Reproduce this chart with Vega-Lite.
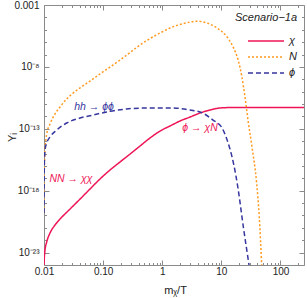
{
  "$schema": "https://vega.github.io/schema/vega-lite/v6.json",
  "width": 260,
  "height": 260,
  "autosize": {"type": "none"},
  "padding": {"left": 44, "top": 5, "right": 3, "bottom": 33},
  "background": "white",
  "config": {
    "view": {"stroke": "#8a8a8a", "strokeWidth": 1},
    "font": "Liberation Sans",
    "axis": {
      "domain": false,
      "grid": false,
      "tickColor": "#8a8a8a",
      "labelColor": "#222222",
      "labelFont": "Liberation Sans",
      "labelFontSize": 10,
      "titleFont": "Liberation Sans",
      "titleFontWeight": "normal",
      "titleColor": "#222222",
      "titleFontSize": 11,
      "labelFlush": false,
      "labelOverlap": false
    }
  },
  "datasets": {
    "curves": [
      {"series": "χ", "x": 0.01, "y": 1e-24},
      {"series": "χ", "x": 0.010118, "y": 3.6e-24},
      {"series": "χ", "x": 0.0104, "y": 1.62e-23},
      {"series": "χ", "x": 0.01111, "y": 7.2e-23},
      {"series": "χ", "x": 0.01263, "y": 3.8e-22},
      {"series": "χ", "x": 0.01535, "y": 1.7e-21},
      {"series": "χ", "x": 0.01865, "y": 5.1e-21},
      {"series": "χ", "x": 0.02754, "y": 3.3e-20},
      {"series": "χ", "x": 0.04066, "y": 2.1e-19},
      {"series": "χ", "x": 0.06003, "y": 1.38e-18},
      {"series": "χ", "x": 0.0886, "y": 8.9e-18},
      {"series": "χ", "x": 0.1308, "y": 4.7e-17},
      {"series": "χ", "x": 0.1932, "y": 2.1e-16},
      {"series": "χ", "x": 0.2853, "y": 9.1e-16},
      {"series": "χ", "x": 0.4212, "y": 4.1e-15},
      {"series": "χ", "x": 0.6218, "y": 1.82e-14},
      {"series": "χ", "x": 0.918, "y": 6.6e-14},
      {"series": "χ", "x": 1.355, "y": 1.7e-13},
      {"series": "χ", "x": 2.001, "y": 4.3e-13},
      {"series": "χ", "x": 2.954, "y": 8.9e-13},
      {"series": "χ", "x": 4.361, "y": 1.9e-12},
      {"series": "χ", "x": 6.438, "y": 3.3e-12},
      {"series": "χ", "x": 9.506, "y": 4.8e-12},
      {"series": "χ", "x": 14.04, "y": 5.2e-12},
      {"series": "χ", "x": 20.72, "y": 5.25e-12},
      {"series": "χ", "x": 250, "y": 5.25e-12},
      {"series": "N", "x": 0.01, "y": 1.58e-20},
      {"series": "N", "x": 0.010118, "y": 4.7e-17},
      {"series": "N", "x": 0.0104, "y": 1.95e-15},
      {"series": "N", "x": 0.01111, "y": 3.8e-14},
      {"series": "N", "x": 0.01263, "y": 2.45e-13},
      {"series": "N", "x": 0.01535, "y": 1.58e-12},
      {"series": "N", "x": 0.01865, "y": 5.75e-12},
      {"series": "N", "x": 0.02421, "y": 2.57e-11},
      {"series": "N", "x": 0.02977, "y": 6.5e-11},
      {"series": "N", "x": 0.04066, "y": 2.0e-10},
      {"series": "N", "x": 0.06003, "y": 7.2e-10},
      {"series": "N", "x": 0.0886, "y": 2.7e-9},
      {"series": "N", "x": 0.1308, "y": 9.8e-9},
      {"series": "N", "x": 0.1932, "y": 3.6e-8},
      {"series": "N", "x": 0.2853, "y": 1.45e-7},
      {"series": "N", "x": 0.4212, "y": 5.9e-7},
      {"series": "N", "x": 0.6218, "y": 1.96e-6},
      {"series": "N", "x": 0.918, "y": 5.5e-6},
      {"series": "N", "x": 1.355, "y": 1.38e-5},
      {"series": "N", "x": 2.001, "y": 2.66e-5},
      {"series": "N", "x": 2.954, "y": 4.2e-5},
      {"series": "N", "x": 3.88, "y": 4.9e-5},
      {"series": "N", "x": 5.7, "y": 3.5e-5},
      {"series": "N", "x": 8.5, "y": 1.38e-5},
      {"series": "N", "x": 12.5, "y": 2.6e-6},
      {"series": "N", "x": 15.8, "y": 4.1e-7},
      {"series": "N", "x": 19.2, "y": 3.6e-8},
      {"series": "N", "x": 22.3, "y": 1.5e-9},
      {"series": "N", "x": 25.1, "y": 3.7e-11},
      {"series": "N", "x": 28.2, "y": 5.1e-13},
      {"series": "N", "x": 33.0, "y": 3.4e-15},
      {"series": "N", "x": 39.5, "y": 4.2e-18},
      {"series": "N", "x": 43.8, "y": 7.6e-21},
      {"series": "N", "x": 48.1, "y": 1e-24},
      {"series": "ϕ", "x": 0.01, "y": 1.58e-20},
      {"series": "ϕ", "x": 0.010118, "y": 1.2e-16},
      {"series": "ϕ", "x": 0.0104, "y": 1.95e-15},
      {"series": "ϕ", "x": 0.01111, "y": 7.1e-15},
      {"series": "ϕ", "x": 0.01263, "y": 2.2e-14},
      {"series": "ϕ", "x": 0.0164, "y": 7.9e-14},
      {"series": "ϕ", "x": 0.0242, "y": 2.95e-13},
      {"series": "ϕ", "x": 0.0406, "y": 7.4e-13},
      {"series": "ϕ", "x": 0.0673, "y": 1.29e-12},
      {"series": "ϕ", "x": 0.115, "y": 2.3e-12},
      {"series": "ϕ", "x": 0.25, "y": 4.0e-12},
      {"series": "ϕ", "x": 0.545, "y": 4.8e-12},
      {"series": "ϕ", "x": 1.36, "y": 4.9e-12},
      {"series": "ϕ", "x": 2.95, "y": 3.3e-12},
      {"series": "ϕ", "x": 4.9, "y": 1.8e-12},
      {"series": "ϕ", "x": 7.24, "y": 5.1e-13},
      {"series": "ϕ", "x": 10.3, "y": 1.15e-13},
      {"series": "ϕ", "x": 12.0, "y": 2.2e-14},
      {"series": "ϕ", "x": 14.0, "y": 2.3e-15},
      {"series": "ϕ", "x": 16.4, "y": 1e-16},
      {"series": "ϕ", "x": 19.2, "y": 1.38e-18},
      {"series": "ϕ", "x": 23.3, "y": 1.7e-21},
      {"series": "ϕ", "x": 29.4, "y": 1e-24}
    ],
    "blueNotes": [{"text": "hh → ϕϕ", "x": 0.0702, "y": 5.75e-12}],
    "redNotes": [
      {"text": "ϕ → χN", "x": 4.37, "y": 1.15e-13},
      {"text": "NN → χχ", "x": 0.0286, "y": 8.9e-18}
    ],
    "blackNotes": [{"text": "Scenario−1a", "x": 191, "y": 8.9e-5}]
  },
  "resolve": {"axis": {"x": "independent", "y": "independent"}},
  "layer": [
    {
      "data": {"name": "curves"},
      "mark": {"type": "line", "strokeWidth": 1.5, "clip": true, "interpolate": "monotone"},
      "encoding": {
        "x": {
          "field": "x", "type": "quantitative",
          "scale": {"type": "log", "domain": [0.01, 250], "nice": false},
          "axis": {
            "orient": "bottom",
            "title": "mᵪ/T",
            "titleX": 131, "titleY": 25, "titleBaseline": "middle",
            "values": [0.01,0.02,0.03,0.04,0.05,0.06,0.07,0.08,0.09,0.1,0.2,0.3,0.4,0.5,0.6,0.7,0.8,0.9,1,2,3,4,5,6,7,8,9,10,20,30,40,50,60,70,80,90,100,200],
            "labelExpr": "datum.value == 0.01 ? '0.01' : datum.value == 0.1 ? '0.10' : datum.value == 1 ? '1' : datum.value == 10 ? '10' : datum.value == 100 ? '100' : ''",
            "tickSize": {"condition": {"test": "datum.value == 0.01 || datum.value == 0.1 || datum.value == 1 || datum.value == 10 || datum.value == 100", "value": -5}, "value": -2.5},
            "labelPadding": 6
          }
        },
        "y": {
          "field": "y", "type": "quantitative",
          "scale": {"type": "log", "domain": [1e-24, 0.001], "nice": false},
          "axis": {
            "orient": "left",
            "title": "Yᵢ",
            "titleX": -32, "titleY": 132, "titleBaseline": "middle", "titleAlign": "center",
            "values": [1e-24,1e-23,1e-22,1e-21,1e-20,1e-19,1e-18,1e-17,1e-16,1e-15,1e-14,1e-13,1e-12,1e-11,1e-10,1e-9,1e-8,1e-7,1e-6,1e-5,1e-4,0.001],
            "labelExpr": "datum.value == 0.001 ? '0.001' : datum.value == 1e-8 ? '10⁻⁸' : datum.value == 1e-13 ? '10⁻¹³' : datum.value == 1e-18 ? '10⁻¹⁸' : datum.value == 1e-23 ? '10⁻²³' : ''",
            "tickSize": {"condition": {"test": "datum.value == 0.001 || datum.value == 1e-8 || datum.value == 1e-13 || datum.value == 1e-18 || datum.value == 1e-23", "value": -5}, "value": -2.5},
            "labelPadding": 10
          }
        },
        "color": {
          "field": "series", "type": "nominal",
          "scale": {"domain": ["χ", "N", "ϕ"], "range": ["#EE1556", "#FF9A1F", "#36369E"]},
          "legend": {
            "orient": "none", "legendX": 203, "legendY": 28, "title": null,
            "symbolType": "stroke", "symbolSize": 1296, "symbolStrokeWidth": 1.5,
            "clipHeight": 16, "rowPadding": 0, "padding": 0,
            "labelFont": "Liberation Sans", "labelFontStyle": "italic", "labelFontSize": 11,
            "labelOffset": 4, "labelColor": "#222222"
          }
        },
        "strokeDash": {
          "field": "series", "type": "nominal",
          "scale": {"domain": ["χ", "N", "ϕ"], "range": [[1, 0], [2, 2], [5, 3]]},
          "legend": {
            "orient": "none", "legendX": 203, "legendY": 28, "title": null,
            "symbolType": "stroke", "symbolSize": 1296, "symbolStrokeWidth": 1.5,
            "clipHeight": 16, "rowPadding": 0, "padding": 0,
            "labelFont": "Liberation Sans", "labelFontStyle": "italic", "labelFontSize": 11,
            "labelOffset": 4, "labelColor": "#222222"
          }
        }
      }
    },
    {
      "data": {"name": "blueNotes"},
      "mark": {"type": "text", "color": "#36369E", "fontSize": 10.5, "fontStyle": "italic", "font": "Liberation Sans", "align": "center", "baseline": "middle"},
      "encoding": {
        "x": {
          "field": "x", "type": "quantitative",
          "scale": {"type": "log", "domain": [0.01, 250], "nice": false},
          "axis": {
            "orient": "top", "title": null, "labels": false,
            "values": [0.01,0.02,0.03,0.04,0.05,0.06,0.07,0.08,0.09,0.1,0.2,0.3,0.4,0.5,0.6,0.7,0.8,0.9,1,2,3,4,5,6,7,8,9,10,20,30,40,50,60,70,80,90,100,200],
            "tickSize": {"condition": {"test": "datum.value == 0.01 || datum.value == 0.1 || datum.value == 1 || datum.value == 10 || datum.value == 100", "value": -5}, "value": -2.5}
          }
        },
        "y": {
          "field": "y", "type": "quantitative",
          "scale": {"type": "log", "domain": [1e-24, 0.001], "nice": false},
          "axis": {
            "orient": "right", "title": null, "labels": false,
            "values": [1e-24,1e-23,1e-22,1e-21,1e-20,1e-19,1e-18,1e-17,1e-16,1e-15,1e-14,1e-13,1e-12,1e-11,1e-10,1e-9,1e-8,1e-7,1e-6,1e-5,1e-4,0.001],
            "tickSize": {"condition": {"test": "datum.value == 0.001 || datum.value == 1e-8 || datum.value == 1e-13 || datum.value == 1e-18 || datum.value == 1e-23", "value": -5}, "value": -2.5}
          }
        },
        "text": {"field": "text"}
      }
    },
    {
      "data": {"name": "redNotes"},
      "mark": {"type": "text", "color": "#EE1556", "fontSize": 10.5, "fontStyle": "italic", "font": "Liberation Sans", "align": "center", "baseline": "middle"},
      "encoding": {
        "x": {"field": "x", "type": "quantitative", "scale": {"type": "log", "domain": [0.01, 250], "nice": false}, "axis": null},
        "y": {"field": "y", "type": "quantitative", "scale": {"type": "log", "domain": [1e-24, 0.001], "nice": false}, "axis": null},
        "text": {"field": "text"}
      }
    },
    {
      "data": {"name": "blackNotes"},
      "mark": {"type": "text", "color": "#222222", "fontSize": 11, "fontStyle": "italic", "font": "Liberation Sans", "align": "right", "baseline": "middle"},
      "encoding": {
        "x": {"field": "x", "type": "quantitative", "scale": {"type": "log", "domain": [0.01, 250], "nice": false}, "axis": null},
        "y": {"field": "y", "type": "quantitative", "scale": {"type": "log", "domain": [1e-24, 0.001], "nice": false}, "axis": null},
        "text": {"field": "text"}
      }
    }
  ]
}
